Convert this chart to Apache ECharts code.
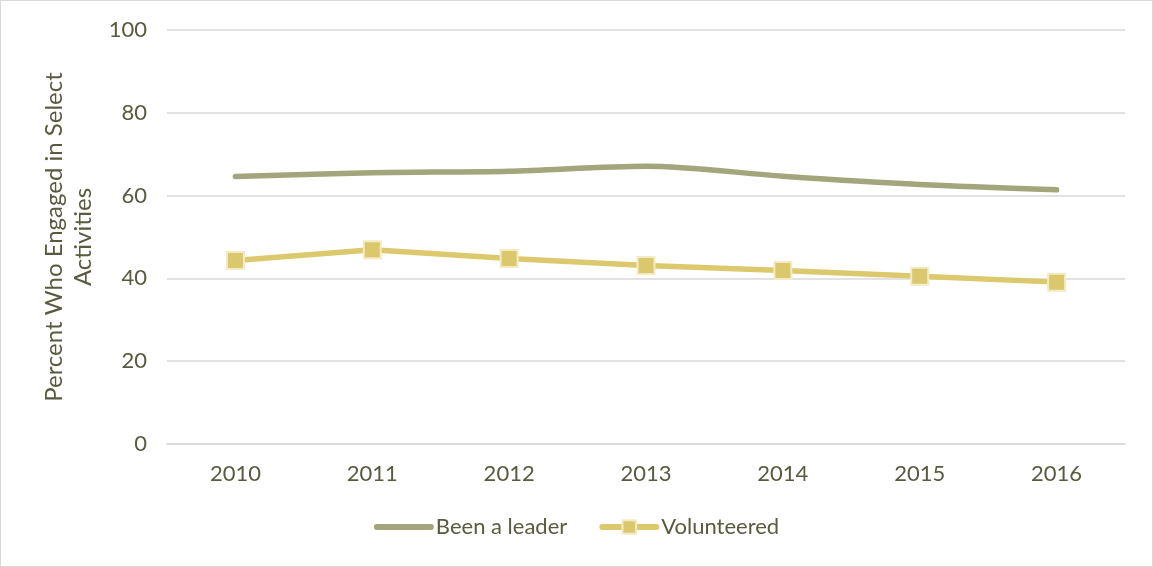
<!DOCTYPE html>
<html>
<head>
<meta charset="utf-8">
<script src="https://cdn.jsdelivr.net/npm/echarts@6/dist/echarts.min.js"></script>
<style>
  html, body { margin: 0; padding: 0; background: #fff; }
  #chart { width: 1153px; height: 567px; box-sizing: border-box; border: 1px solid #d9d9d9; }
</style>
</head>
<body>
<div id="chart"></div>
<script>
const years = ['2010', '2011', '2012', '2013', '2014', '2015', '2016'];
const beenLeader = [64.6, 65.5, 65.9, 67.1, 64.7, 62.7, 61.4];
const volunteered = [44.3, 46.9, 44.8, 43.1, 41.9, 40.5, 39.1];
const yTicks = [0, 20, 40, 60, 80, 100];

const textColor = '#595a3f';
const font = 'Lato, "Open Sans", sans-serif';
const leaderColor = '#a3a57c';
const volColor = '#dcc96e';

const chart = echarts.init(document.getElementById('chart'));
chart.setOption({
  animation: false,
  textStyle: { fontFamily: font, color: textColor },
  grid: { left: 166, right: 27, top: 29, bottom: 122 },
  legend: {
    bottom: 23,
    left: 'center',
    itemWidth: 54,
    itemHeight: 17,
    itemGap: 32,
    textStyle: { fontSize: 22, color: textColor, fontFamily: font },
    data: [
      {
        name: 'Been a leader',
        itemStyle: { opacity: 0 },
        lineStyle: { color: leaderColor, width: 6, cap: 'round', opacity: 1 }
      },
      {
        name: 'Volunteered',
        lineStyle: { color: volColor, width: 6, cap: 'round' }
      }
    ]
  },
  xAxis: {
    type: 'category',
    data: years,
    boundaryGap: true,
    axisLine: { lineStyle: { color: '#d9d9d9', width: 1.5 } },
    axisTick: { show: false },
    axisLabel: { fontSize: 22, color: textColor, margin: 19 }
  },
  yAxis: {
    type: 'value',
    min: yTicks[0],
    max: yTicks[yTicks.length - 1],
    interval: 20,
    name: 'Percent Who Engaged in Select\nActivities',
    nameLocation: 'middle',
    nameGap: 66,
    nameTextStyle: { fontSize: 24, color: textColor, lineHeight: 29 },
    axisLine: { show: false },
    axisTick: { show: false },
    axisLabel: { fontSize: 22, color: textColor, margin: 20 },
    splitLine: { lineStyle: { color: '#d9d9d9', width: 1.5 } }
  },
  series: [
    {
      name: 'Been a leader',
      type: 'line',
      data: beenLeader,
      smooth: 0.3,
      symbol: 'none',
      lineStyle: { color: leaderColor, width: 5.5, cap: 'round' },
      itemStyle: { color: leaderColor }
    },
    {
      name: 'Volunteered',
      type: 'line',
      data: volunteered,
      symbol: 'rect',
      symbolSize: 17,
      lineStyle: { color: volColor, width: 5.5 },
      itemStyle: { color: '#dcc86c', borderColor: '#f3ebc4', borderWidth: 2 }
    }
  ]
});
</script>
</body>
</html>
